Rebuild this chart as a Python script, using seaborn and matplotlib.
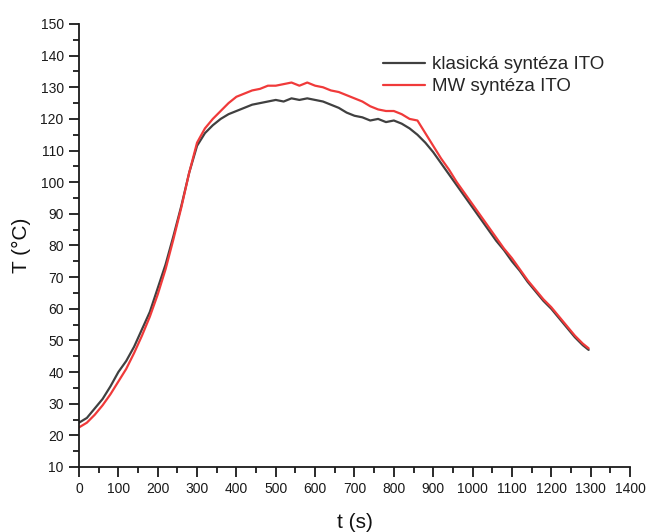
import matplotlib
matplotlib.use("Agg")
import matplotlib.pyplot as plt
from matplotlib.ticker import MultipleLocator
import numpy as np
import pandas as pd
import seaborn as sns

# Temperature records (time in s, temperature in °C)
t_classic = [0, 20, 40, 60, 80, 100, 120, 140, 160, 180, 200, 220, 240, 260, 280,
             300, 320, 340, 360, 380, 400, 420, 440, 460, 480, 500, 520, 540, 560,
             580, 600, 620, 640, 660, 680, 700, 720, 740, 760, 780, 800, 820, 840,
             860, 880, 900, 920, 940, 960, 980, 1000, 1020, 1040, 1060, 1080, 1100,
             1120, 1140, 1160, 1180, 1200, 1220, 1240, 1260, 1280, 1295]
T_classic = [24.0, 25.5, 28.5, 31.5, 35.5, 40.0, 43.5, 48.0, 53.5, 59.0, 66.5, 74.0,
             83.0, 92.5, 103.0, 111.5, 115.5, 118.0, 120.0, 121.5, 122.5, 123.5,
             124.5, 125.0, 125.5, 126.0, 125.5, 126.5, 126.0, 126.5, 126.0, 125.5,
             124.5, 123.5, 122.0, 121.0, 120.5, 119.5, 120.0, 119.0, 119.5, 118.5,
             117.0, 115.0, 112.5, 109.5, 106.0, 102.5, 99.0, 95.5, 92.0, 88.5, 85.0,
             81.5, 78.5, 75.0, 72.0, 68.5, 65.5, 62.5, 60.0, 57.0, 54.0, 51.0, 48.5,
             47.0]

t_mw = t_classic
T_mw = [22.5, 24.0, 26.5, 29.5, 33.0, 37.0, 41.0, 46.0, 51.5, 57.5, 64.5, 72.5,
        82.0, 92.0, 103.0, 112.5, 117.0, 120.0, 122.5, 125.0, 127.0, 128.0, 129.0,
        129.5, 130.5, 130.5, 131.0, 131.5, 130.5, 131.5, 130.5, 130.0, 129.0,
        128.5, 127.5, 126.5, 125.5, 124.0, 123.0, 122.5, 122.5, 121.5, 120.0,
        119.5, 115.5, 111.5, 107.5, 104.0, 100.0, 96.5, 93.0, 89.5, 86.0, 82.5,
        79.0, 76.0, 72.5, 69.0, 66.0, 63.0, 60.5, 57.5, 54.5, 51.5, 49.0, 47.5]

labels = ["klasická syntéza ITO", "MW syntéza ITO"]
colors = ["#404040", "#f03a3a"]

df = pd.concat([
    pd.DataFrame({"t": t_classic, "T": T_classic, "series": labels[0]}),
    pd.DataFrame({"t": t_mw, "T": T_mw, "series": labels[1]}),
], ignore_index=True)

sns.set_style("ticks")
plt.rcParams["font.family"] = ["Liberation Sans", "DejaVu Sans"]

fig = plt.figure(figsize=(6.49, 5.32), dpi=100)
ax = fig.add_axes([0.1217, 0.1222, 0.849, 0.8327])

sns.lineplot(data=df, x="t", y="T", hue="series", palette=dict(zip(labels, colors)),
             linewidth=1.6, ax=ax, sort=False)

ax.set_xlim(0, 1400)
ax.set_ylim(10, 150)
ax.xaxis.set_major_locator(MultipleLocator(100))
ax.xaxis.set_minor_locator(MultipleLocator(50))
ax.yaxis.set_major_locator(MultipleLocator(10))
ax.yaxis.set_minor_locator(MultipleLocator(5))
ax.tick_params(which="major", direction="out", length=7, width=1.3, labelsize=10,
               colors="#1a1a1a", pad=4)
ax.tick_params(which="minor", direction="out", length=4, width=1.3, colors="#1a1a1a")
for s in ["top", "right"]:
    ax.spines[s].set_visible(False)
for s in ["left", "bottom"]:
    ax.spines[s].set_linewidth(1.3)
    ax.spines[s].set_color("#1a1a1a")

ax.set_xlabel("t (s)", fontsize=15, labelpad=12, color="#111111")
ax.set_ylabel("T (°C)", fontsize=15, labelpad=7, color="#111111")

leg = ax.legend(loc="upper left", bbox_to_anchor=(0.552, 0.927), frameon=False,
                fontsize=13.5, handlelength=2.25, handletextpad=0.35,
                borderaxespad=0, borderpad=0, labelspacing=0.25)

fig.savefig("out.png", dpi=100)
